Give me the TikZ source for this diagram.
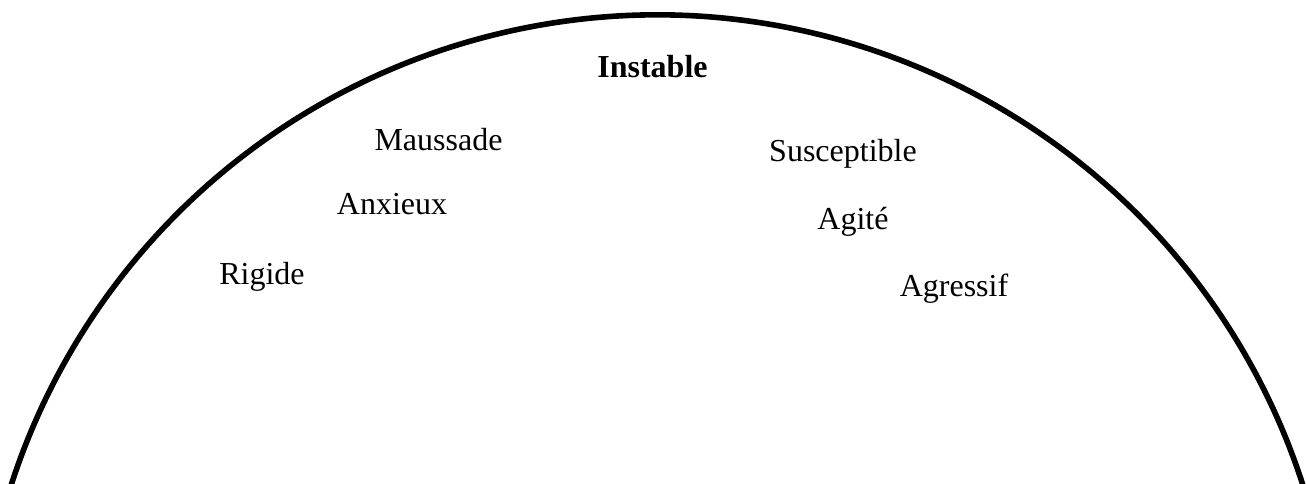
\documentclass[tikz,border=0pt]{standalone}
\usepackage{fontspec}
\setmainfont{Liberation Serif}

\begin{document}
\begin{tikzpicture}[x=0.375pt, y=0.375pt, mood/.style={font=\fontsize{12}{14}\selectfont, anchor=base, inner sep=0pt}]
    \useasboundingbox (0,0) rectangle (1306,484);
    \clip (0,0) rectangle (1306,484);
    \draw[line width=2.1pt] (657,-209.7) ++(15:678.7) arc[start angle=15, end angle=165, radius=678.7];
    \draw

    (652.5,406)node[mood, font=\fontsize{12}{14}\selectfont\bfseries](instable){Instable}
    (438.5,333.3)node[mood](maussade){Maussade}
    (392,269)node[mood](anxieux){Anxieux}
    (262,199)node[mood](rigide){Rigide}
    (843,322.3)node[mood](susceptible){Susceptible}
    (853,254)node[mood](agite){Agité}
    (954,187.3)node[mood](agressif){Agressif}

    ;
\end{tikzpicture}
\end{document}
